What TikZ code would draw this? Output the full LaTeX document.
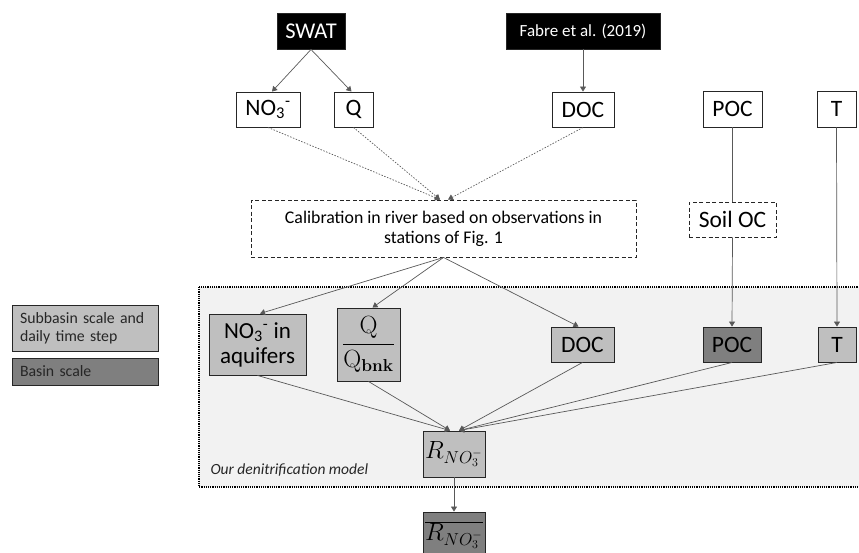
\documentclass[tikz,border=0pt]{standalone}
\usepackage[no-math]{fontspec}
\setmainfont{Carlito}
\usetikzlibrary{arrows.meta,calc}
\definecolor{lightfill}{HTML}{BFBFBF}
\definecolor{darkfill}{HTML}{7F7F7F}
\definecolor{panel}{HTML}{F2F2F2}
\definecolor{linec}{HTML}{595959}
\definecolor{legtext}{HTML}{262626}
\begin{document}
\begin{tikzpicture}[x=1pt,y=-1pt,
  box/.style={draw=black!85, line width=0.9pt, inner sep=0pt, align=center, fill=white},
  srcbox/.style={box, fill=black, text=white},
  litebox/.style={box, fill=lightfill},
  darkbox/.style={box, fill=darkfill},
  dbox/.style={box, dash pattern=on 4pt off 2.5pt},
  big/.style={font=\fontsize{23.5}{26}\selectfont},
  mid/.style={font=\fontsize{17.8}{20}\selectfont},
  legbox/.style={minimum width=146pt, text width=130pt, align=left, text=legtext, font=\fontsize{15.8}{18}\selectfont},
  conn/.style={draw=linec, line width=0.7pt},
  arr/.style={conn, -{Triangle[length=5pt,width=6pt]}, shorten >=0pt},
  dotconn/.style={conn, dash pattern=on 1.5pt off 1.5pt, -{Triangle[length=5pt,width=6pt]}}
]
\useasboundingbox (0,0) rectangle (859,552);
\clip (0,0) rectangle (859,552);

% panel
\draw[fill=panel, draw=black, line width=1.1pt, dash pattern=on 1.2pt off 1.0pt] (199,287) rectangle (875,487);
\node[anchor=west, font=\fontsize{15.5}{18}\selectfont\itshape, text=black!85] (lbl) at (207,470) {Our denitrification model};

% sources
\node[srcbox, minimum width=68pt, minimum height=36pt, font=\fontsize{22.5}{24}\selectfont] (swat) at (311,31) {SWAT};
\node[srcbox, minimum width=154pt, minimum height=36pt, font=\fontsize{17}{20}\selectfont] (fabre) at (583,31) {Fabre et al. (2019)};

% top row
\node[box, minimum width=64pt, minimum height=35pt, big] (no3) at (268,109.5) {NO\textsubscript{3}\textsuperscript{-}};
\node[box, minimum width=39pt, minimum height=35pt, big] (q) at (353.5,109.5) {Q};
\node[box, minimum width=62pt, minimum height=35pt, big] (doc1) at (583,109.5) {DOC};
\node[box, minimum width=59pt, minimum height=36pt, big] (poc1) at (732.5,109) {POC};
\node[box, minimum width=39pt, minimum height=36pt, big] (t1) at (836.5,109) {T};

% middle
\node[dbox, minimum width=87pt, minimum height=35pt, big] (soil) at (732.5,219.5) {Soil OC};
\node[dbox, minimum width=385pt, minimum height=57pt, mid] (cal) at (443.5,228.5) {Calibration in river based on observations in\\stations of Fig. 1};

% model row
\node[litebox, minimum width=97pt, minimum height=61pt, font=\fontsize{23}{25}\selectfont] (aq) at (257.5,344.5) {NO\textsubscript{3}\textsuperscript{-} in\\aquifers};
\node[litebox, minimum width=63pt, minimum height=73pt, font=\fontsize{23}{25}\selectfont] (qq) at (368.5,344.5) {$\displaystyle\frac{\mathrm{Q}}{\mathrm{Q}_{\mathbf{bnk}}}$};
\node[litebox, minimum width=63pt, minimum height=35pt, big] (doc2) at (582.5,344.5) {DOC};
\node[darkbox, minimum width=58pt, minimum height=35pt, big] (poc2) at (732,344.5) {POC};
\node[litebox, minimum width=38pt, minimum height=35pt, big] (t2) at (837,344.5) {T};

\node[litebox, minimum width=62pt, minimum height=46pt, font=\fontsize{23}{26}\selectfont] (r) at (454,454) {$R_{NO_3^-}$};
\node[darkbox, minimum width=62pt, minimum height=46pt, font=\fontsize{23}{26}\selectfont] (rbar) at (454,535) {$\overline{R_{NO_3^-}}$};

% legend
\node[litebox, legbox, minimum height=46pt] (leg1) at (85,328) {Subbasin scale and\\daily time step};
\node[darkbox, legbox, minimum height=27pt] (leg2) at (85,371.5) {Basin scale};

% connectors
\draw[arr] (swat.south) -- ($(no3.north)+(4,0)$);
\draw[arr] (swat.south) -- ($(q.north)+(-2,0)$);
\draw[arr] (fabre.south) -- (doc1.north);

\draw[dotconn] (no3.south) -- ($(cal.north)+(-3.5,0)$);
\draw[dotconn] (q.south) -- ($(cal.north)+(-3.5,0)$);
\draw[dotconn] (doc1.south) -- ($(cal.north)+(4.5,0)$);

\draw[conn] (poc1.south) -- (soil.north);
\draw[arr] (soil.south) -- (poc2.north);
\draw[arr] (t1.south) -- (t2.north);

\draw[arr] (cal.south) -- ($(aq.north)+(2.5,0)$);
\draw[arr] (cal.south) -- ($(qq.north)+(4,0)$);
\draw[arr] (cal.south) -- ($(doc2.north)+(-4,0)$);

\draw[arr] (aq.south) -- ($(r.north)+(-4,0)$);
\draw[arr] (qq.south) -- ($(r.north)+(-4,0)$);
\draw[arr] (doc2.south) -- ($(r.north)+(5,0)$);
\draw[arr] (poc2.south) -- ($(r.north)+(5,0)$);
\draw[arr] (t2.south) -- ($(r.north)+(5,0)$);

\draw[arr] (r.south) -- (rbar.north);
\end{tikzpicture}
\end{document}
